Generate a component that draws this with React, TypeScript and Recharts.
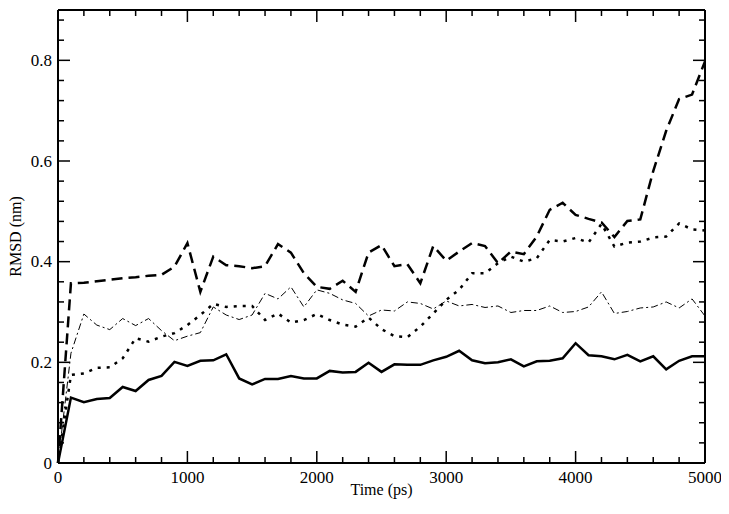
import React from 'react';
import { Line, LineChart, ReferenceLine, XAxis, YAxis } from 'recharts';

// time axis (ps), one sample every 100 ps
const times = [
    0, 100, 200, 300, 400, 500, 600, 700, 800, 900,
    1000, 1100, 1200, 1300, 1400, 1500, 1600, 1700, 1800, 1900,
    2000, 2100, 2200, 2300, 2400, 2500, 2600, 2700, 2800, 2900,
    3000, 3100, 3200, 3300, 3400, 3500, 3600, 3700, 3800, 3900,
    4000, 4100, 4200, 4300, 4400, 4500, 4600, 4700, 4800, 4900, 5000,
];

// RMSD (nm) for each trajectory
const solidRmsd = [
    0, 0.13, 0.121, 0.127, 0.129, 0.151, 0.143, 0.165, 0.173, 0.201,
    0.193, 0.203, 0.204, 0.216, 0.168, 0.156, 0.167, 0.167, 0.173, 0.168,
    0.168, 0.183, 0.18, 0.181, 0.199, 0.181, 0.196, 0.195, 0.195, 0.204,
    0.211, 0.223, 0.204, 0.198, 0.2, 0.206, 0.192, 0.202, 0.203, 0.208,
    0.238, 0.214, 0.212, 0.206, 0.215, 0.202, 0.212, 0.186, 0.203, 0.212, 0.212,
];
const dashedRmsd = [
    0, 0.357, 0.358, 0.361, 0.364, 0.367, 0.369, 0.372, 0.374, 0.39,
    0.437, 0.34, 0.41, 0.393, 0.391, 0.387, 0.391, 0.435, 0.418, 0.377,
    0.35, 0.346, 0.362, 0.34, 0.418, 0.433, 0.391, 0.395, 0.357, 0.431,
    0.402, 0.42, 0.437, 0.431, 0.397, 0.42, 0.415, 0.45, 0.503, 0.517,
    0.493, 0.485, 0.478, 0.449, 0.481, 0.484, 0.58, 0.66, 0.723, 0.732, 0.798,
];
const dottedRmsd = [
    0, 0.175, 0.178, 0.189, 0.19, 0.208, 0.248, 0.241, 0.251, 0.258,
    0.274, 0.294, 0.316, 0.31, 0.312, 0.312, 0.284, 0.297, 0.279, 0.284,
    0.296, 0.284, 0.275, 0.271, 0.289, 0.266, 0.252, 0.25, 0.271, 0.297,
    0.324, 0.344, 0.377, 0.377, 0.397, 0.41, 0.4, 0.407, 0.443, 0.44,
    0.447, 0.438, 0.475, 0.43, 0.438, 0.44, 0.448, 0.45, 0.476, 0.464, 0.462,
];
const dashDotRmsd = [
    0, 0.218, 0.296, 0.274, 0.265, 0.287, 0.273, 0.287, 0.263, 0.243,
    0.252, 0.259, 0.31, 0.294, 0.285, 0.294, 0.337, 0.326, 0.35, 0.31,
    0.344, 0.337, 0.324, 0.317, 0.292, 0.304, 0.302, 0.32, 0.317, 0.306,
    0.322, 0.312, 0.315, 0.309, 0.312, 0.299, 0.303, 0.303, 0.312, 0.299,
    0.301, 0.31, 0.34, 0.297, 0.301, 0.308, 0.31, 0.32, 0.308, 0.326, 0.292,
];

const xTicks = [
    0, 200, 400, 600, 800, 1000, 1200, 1400, 1600, 1800, 2000, 2200, 2400,
    2600, 2800, 3000, 3200, 3400, 3600, 3800, 4000, 4200, 4400, 4600, 4800, 5000,
];
const xMajor = [0, 1000, 2000, 3000, 4000, 5000];
const yTicks = [
    0, 0.04, 0.08, 0.12, 0.16, 0.2, 0.24, 0.28, 0.32, 0.36, 0.4, 0.44,
    0.48, 0.52, 0.56, 0.6, 0.64, 0.68, 0.72, 0.76, 0.8, 0.84, 0.88,
];
const yMajor = [0, 0.2, 0.4, 0.6, 0.8];

const data = times.map((time, i) => ({
    time,
    solid: solidRmsd[i],
    dashed: dashedRmsd[i],
    dotted: dottedRmsd[i],
    dashDot: dashDotRmsd[i],
}));

const W = 721;
const H = 500;
const MARGIN = { top: 2, right: 24, bottom: 0, left: 0 };
const PLOT_TOP = MARGIN.top;
const PLOT_RIGHT = W - MARGIN.right;

const FONT = '"Liberation Serif", "Times New Roman", serif';
const MAJOR = 12;
const MINOR = 6;
const X_GAP = 8;
const Y_GAP = 6;

const isMajor = (list: number[], v: number) => list.some(m => Math.abs(m - v) < 1e-6);

// inward tick marks on all four sides (xmgrace style), labels only on major ticks
const XTick = ({ x, y, payload }: any) => {
    const major = isMajor(xMajor, payload.value);
    const len = major ? MAJOR : MINOR;
    const yb = y - X_GAP;
    return (
        <g>
            <line x1={x} y1={yb} x2={x} y2={yb - len} stroke="#000" strokeWidth={1.5} />
            <line x1={x} y1={PLOT_TOP} x2={x} y2={PLOT_TOP + len} stroke="#000" strokeWidth={1.5} />
            {major && (
                <text x={x} y={y} dy="0.72em" textAnchor="middle" fill="#000"
                    style={{ fontFamily: FONT, fontSize: 17 }}>
                    {payload.value}
                </text>
            )}
        </g>
    );
};

const YTick = ({ x, y, payload }: any) => {
    const major = isMajor(yMajor, payload.value);
    const len = major ? MAJOR : MINOR;
    const xl = x + Y_GAP;
    return (
        <g>
            <line x1={xl} y1={y} x2={xl + len} y2={y} stroke="#000" strokeWidth={1.5} />
            <line x1={PLOT_RIGHT} y1={y} x2={PLOT_RIGHT - len} y2={y} stroke="#000" strokeWidth={1.5} />
            {major && (
                <text x={x} y={y} dy="0.34em" textAnchor="end" fill="#000"
                    style={{ fontFamily: FONT, fontSize: 17 }}>
                    {payload.value === 0 ? '0' : payload.value}
                </text>
            )}
        </g>
    );
};

const frame = { stroke: '#000', strokeWidth: 2 };

export default function App() {
    return (
        <LineChart width={W} height={H} data={data} margin={MARGIN}>
            <XAxis
                dataKey="time"
                type="number"
                domain={[0, 5000]}
                ticks={xTicks}
                interval={0}
                height={45}
                tickSize={0}
                tickMargin={X_GAP}
                tickLine={false}
                axisLine={frame}
                tick={XTick}
                label={{ value: 'Time (ps)', position: 'center', dy: 4, style: { fontFamily: FONT, fontSize: 16 }, fill: '#000' }}
            />
            <YAxis
                type="number"
                domain={[0, 0.9]}
                ticks={yTicks}
                interval={0}
                width={50}
                tickSize={0}
                tickMargin={Y_GAP}
                tickLine={false}
                axisLine={frame}
                tick={YTick}
                label={{ value: 'RMSD (nm)', angle: -90, position: 'center', dx: -18, style: { fontFamily: FONT, fontSize: 16 }, fill: '#000' }}
            />
            {/* top and right sides of the frame */}
            <ReferenceLine y={0.9} stroke="#000" strokeWidth={2} ifOverflow="visible" />
            <ReferenceLine x={5000} stroke="#000" strokeWidth={2} ifOverflow="visible" />

            <Line type="linear" dataKey="dashDot" stroke="#000" strokeWidth={1} strokeDasharray="7 3 2 3" dot={false} isAnimationActive={false} />
            <Line type="linear" dataKey="dotted" stroke="#000" strokeWidth={2.5} strokeDasharray="3 6" dot={false} isAnimationActive={false} />
            <Line type="linear" dataKey="dashed" stroke="#000" strokeWidth={2.5} strokeDasharray="11 6" dot={false} isAnimationActive={false} />
            <Line type="linear" dataKey="solid" stroke="#000" strokeWidth={2.5} dot={false} isAnimationActive={false} />
        </LineChart>
    );
}
